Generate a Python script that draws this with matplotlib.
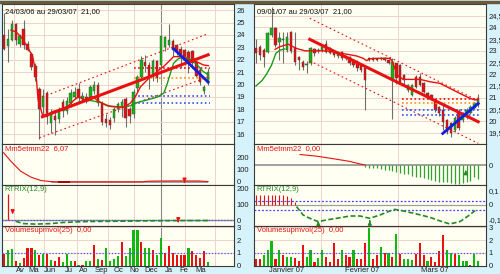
import matplotlib
matplotlib.use('Agg')
import matplotlib.pyplot as plt
from matplotlib.lines import Line2D

plt.rcParams['font.family'] = ['Liberation Sans', 'DejaVu Sans']

# ---------------- left chart : weekly 24/03/06 -> 29/03/07 ----------------
open_l = [24.0, 23.1, 23.6, 24.9, 23.3, 24.5, 23.3, 22.5, 21.5, 19.6, 18.2, 19.3, 16.9, 17.5, 17.2, 18.6,
          17.9, 18.5, 19.0, 19.6, 18.8, 19.0, 19.0, 19.5, 20.0, 18.5, 17.2, 17.1, 17.3, 18.0, 18.1, 18.8,
          18.0, 17.6, 19.7, 20.6, 21.8, 21.6, 20.6, 21.9, 21.6, 23.0, 23.2, 23.5, 23.2, 22.9, 22.8, 22.6,
          22.7, 21.8, 21.2, 19.5, 20.1]
close_l = [22.9, 23.7, 24.9, 23.6, 23.9, 23.2, 22.8, 21.4, 20.6, 18.0, 19.1, 17.4, 17.6, 17.1, 18.0, 17.9,
           18.7, 19.3, 19.4, 18.9, 19.1, 18.7, 19.8, 20.0, 18.5, 17.0, 16.9, 16.7, 18.0, 18.4, 18.6, 17.3,
           17.5, 19.4, 20.6, 22.0, 21.5, 20.5, 21.9, 20.5, 23.9, 23.8, 23.6, 22.8, 22.6, 22.2, 22.0, 21.9,
           21.7, 20.7, 20.2, 19.8, 21.0]
high_l = [25.8, 24.5, 25.2, 25.0, 24.1, 25.2, 23.5, 22.6, 21.7, 19.8, 19.6, 19.5, 18.0, 17.9, 18.2, 18.8,
          19.0, 19.6, 19.8, 20.1, 19.4, 19.3, 20.0, 20.3, 20.2, 18.7, 17.6, 17.4, 18.2, 18.6, 18.8, 19.0,
          18.2, 19.6, 20.8, 22.3, 22.4, 21.8, 22.1, 22.0, 24.0, 23.9, 24.9, 23.7, 23.3, 23.1, 22.9, 22.8,
          22.8, 21.9, 21.4, 20.0, 21.3]
low_l = [22.8, 21.8, 23.5, 23.2, 23.0, 22.9, 22.7, 21.2, 20.3, 15.6, 17.6, 16.8, 16.1, 15.9, 16.9, 17.4,
         17.6, 18.2, 18.8, 18.6, 18.6, 18.5, 18.8, 19.2, 18.3, 16.7, 16.6, 16.4, 17.0, 17.8, 17.4, 16.6,
         16.9, 17.3, 19.4, 20.4, 21.0, 19.6, 20.3, 20.2, 21.4, 22.7, 23.0, 22.3, 22.4, 21.3, 21.6, 20.9,
         21.5, 20.6, 20.0, 19.2, 20.0]
vol_l = [0.94, 1.21, 1.34, 0.40, 0.22, 0.62, 1.42, 1.42, 1.21, 0.86, 0.89, 0.89, 0.46, 0.35, 0.67, 0.27,
         0.94, 0.35, 0.40, 0.03, 0.08, 0.40, 0.40, 1.59, 0.54, 0.48, 1.42, 0.40, 0.54, 0.75, 1.88, 0.75,
         1.42, 2.77, 2.77, 1.88, 1.42, 1.42, 1.21, 0.81, 2.15, 0.99, 1.53, 0.99, 0.86, 0.81, 0.81, 1.40,
         1.13, 0.86, 0.62, 1.13, 0.32]
volcol_l = "rggrgrrrgrgrgrrgggrgrggrgrggggrggggrggrggrrrrrrgrrrrg"

ma_red_l_x = [1.8, 3.0, 4.3, 6.0, 7.3, 8.1, 8.7, 9.8, 11.1, 12.4, 14.0, 16.2, 17.9, 19.1, 20.4, 22.5, 24.2,
              26.3, 28.4, 30.5, 32.2, 33.5, 34.8, 36.9, 39.0, 41.1, 43.2, 45.4, 47.0, 49.1, 50.8, 52.1]
ma_red_l_y = [24.39, 24.26, 23.86, 23.05, 22.25, 21.04, 18.76, 17.55, 17.55, 17.82, 17.96, 18.22, 18.76,
              19.03, 18.76, 19.03, 18.63, 18.28, 18.22, 18.17, 18.5, 19.03, 19.83, 20.5, 21.04, 21.58,
              22.25, 22.25, 21.98, 21.84, 21.58, 21.52]
ma_grn_l_x = [15.3, 17.0, 19.5, 22.1, 24.6, 27.2, 29.7, 32.2, 34.0, 36.5, 39.0, 40.7, 41.5, 42.4, 43.2,
              44.5, 46.2, 47.9, 49.6, 50.8, 52.1]
ma_grn_l_y = [17.9, 18.28, 18.63, 18.71, 18.55, 18.22, 18.17, 18.28, 18.55, 18.76, 18.98, 19.3, 19.97,
              20.91, 21.71, 22.11, 22.19, 21.98, 21.44, 21.04, 20.77]
trend_l_x = [9.8, 52.0]
trend_l_y = [17.4, 22.4]
chan_up_l_y = [19.0, 24.1]
chan_lo_l_x = [9.0, 52.0]
chan_lo_l_y = [15.7, 20.6]
blue_l_x = [43.2, 52.0]
blue_l_y = [22.9, 20.2]
levels_l = [21.3, 20.56, 19.1, 18.5]

mm_l_x = [-0.1, 1.8, 4.3, 6.9, 9.4, 12.7, 20, 35, 37, 44, 50, 52]
mm_l_y = [235, 165, 85, 38, 11, 0, 0, 0, 6, 8, 7, 2]
trix_l_x = [3, 5, 8, 12, 15, 20, 25, 30, 35, 40, 45, 52]
trix_l_y = [-8, -22, -25, -22, -15, -10, -8, -7, -5, -4, -3, -3]

months_l = ['Av', 'Ma', 'Jun', 'Ju', 'Ao', 'Sep', 'Oc', 'No', 'Dec', 'Ja', 'Fe', 'Ma']
months_l_pos = [4.1, 7.6, 11.7, 16.5, 20.3, 24.9, 29.2, 33.2, 37.6, 41.9, 45.9, 50.0]
vgrid_l = [2.5, 10.2, 18.5, 26.4, 33.0, 46.2, 53.8]
year_l = 40.1

# ---------------- right chart : daily 09/01/07 -> 29/03/07 ----------------
open_r = [23.1, 23.18, 23.03, 22.96, 23.68, 23.96, 23.39, 23.45, 23.03, 23.8, 23.18, 22.75, 22.53, 22.4,
          22.46, 23.06, 22.98, 23.03, 23.3, 23.1, 23.0, 22.78, 22.96, 22.7, 22.75, 22.6, 22.53, 22.39,
          22.25, 22.7, 22.68, 22.66, 22.7, 22.68, 22.62, 21.75, 22.46, 22.4, 21.97, 21.32, 21.11, 21.9,
          21.9, 21.61, 21.18, 21.1, 20.9, 20.61, 20.47, 20.04, 19.9, 19.61, 20.4, 20.04, 20.19, 20.33,
          20.54, 20.68]
close_r = [22.92, 22.82, 22.75, 23.75, 23.96, 23.25, 23.53, 23.47, 23.6, 23.0, 22.54, 22.6, 22.32, 22.45,
           23.1, 22.9, 23.04, 23.18, 22.96, 22.9, 22.82, 22.92, 22.68, 22.75, 22.46, 22.4, 22.25, 22.18,
           21.75, 22.6, 22.62, 22.6, 22.64, 22.62, 22.5, 22.54, 21.82, 21.68, 21.75, 21.54, 21.54, 21.47,
           21.54, 21.25, 21.04, 20.98, 20.47, 20.33, 19.97, 19.54, 19.47, 20.11, 19.69, 20.33, 20.47,
           20.61, 20.75, 21.0]
high_r = [23.49, 23.25, 23.1, 23.8, 24.89, 24.0, 23.82, 23.82, 23.82, 23.85, 23.8, 22.8, 22.6, 22.55,
          23.15, 23.1, 23.1, 23.25, 23.46, 23.15, 23.05, 22.98, 23.0, 22.82, 22.8, 22.65, 22.6, 22.45,
          22.3, 22.75, 22.72, 22.7, 22.75, 22.72, 22.66, 22.68, 22.5, 22.45, 22.0, 21.6, 21.6, 21.95,
          22.04, 21.65, 21.22, 21.15, 20.95, 20.65, 20.7, 20.1, 19.95, 20.2, 20.5, 20.4, 20.55, 20.68,
          20.8, 21.15]
low_r = [22.46, 22.6, 22.32, 22.9, 23.6, 23.18, 22.6, 22.5, 22.96, 22.9, 22.4, 22.18, 22.2, 22.04, 22.4,
         22.8, 22.9, 22.95, 22.9, 22.85, 22.75, 22.7, 22.6, 22.6, 22.4, 22.3, 22.15, 22.1, 20.47, 22.55,
         22.58, 22.55, 22.6, 22.58, 22.45, 20.07, 21.6, 21.6, 21.6, 21.25, 21.05, 21.4, 21.5, 21.2, 20.95,
         20.9, 20.4, 20.2, 19.6, 19.45, 19.33, 19.55, 19.6, 19.95, 20.1, 20.3, 20.5, 20.6]
vol_r = [0.54, 0.54, 0.8, 1.2, 1.94, 0.54, 1.2, 0.8, 0.67, 0.67, 0.62, 0.35, 1.6, 0.72, 1.2, 0.27, 0.62,
         1.2, 0.72, 0.27, 1.75, 0.54, 1.2, 0.8, 0.72, 1.2, 0.54, 0.54, 1.75, 2.96, 0.54, 0.8, 1.48, 1.0,
         1.0, 0.67, 2.47, 0.94, 0.54, 0.54, 0.48, 0.94, 1.75, 0.8, 0.35, 0.67, 0.32, 1.13, 2.42, 1.2, 1.0,
         0.94, 0.8, 0.4, 0.4, 0.08, 0.94, 0.4]
volcol_r = "rrgggrgrggrrrggrggrrrrgrrgrrrgrrgrgrgrgggrrrgrrrrggrgggrgg"

ma_red_r_x = [4.9, 6.15, 8.3, 10.4, 12.6, 15.6, 18.1, 20.7, 23.2, 25.8, 27.5, 28.4, 29.2, 30.9, 34.4, 35.0,
              35.6, 36.5, 37.8, 39.5, 42.1, 44.6, 47.2, 49.7, 52.3, 54.9, 56.2, 57.0]
ma_red_r_y = [23.06, 23.18, 23.28, 23.1, 23.0, 23.0, 23.0, 22.92, 22.86, 22.78, 22.68, 22.58, 22.66, 22.68,
              22.68, 22.54, 22.25, 21.92, 21.78, 21.78, 21.78, 21.68, 21.61, 21.4, 21.18, 20.97, 20.9, 20.93]
ma_grn_r_x = [0.0, 1.5, 2.7, 4.0, 5.1, 6.15, 7.4]
ma_grn_r_y = [21.5, 21.72, 22.0, 22.39, 22.89, 23.03, 23.08]
trend_r_x = [13.8, 57.0]
trend_r_y = [23.49, 19.97]
chan_up_r_y = [24.39, 20.87]
chan_lo_r_y = [22.57, 19.05]
blue_r_x = [47.9, 57.0]
blue_r_y = [19.47, 20.75]
levels_r = [20.93, 20.78, 20.47, 20.28]

mm_r_x = [11.3, 15.6, 19.8, 24.1, 26.7, 28.0]
mm_r_y = [0.5, 0.42, 0.3, 0.17, 0.05, 0.0]
mm_r_bars = [-0.08, -0.12, -0.13, -0.15, -0.18, -0.22, -0.25, -0.28, -0.32, -0.37, -0.42, -0.45, -0.5,
             -0.55, -0.58, -0.62, -0.67, -0.72, -0.77, -0.8, -0.83, -0.83, -0.88, -0.92, -0.92, -0.88,
             -0.83, -0.75, -0.58, -0.67]
trix_r_x = [10.4, 12.1, 13.8, 16.0, 18.1, 20.7, 24.1, 26.7, 29.2, 31.8, 34.4, 35.6, 37.8, 41.2, 44.6,
            47.2, 49.7, 52.3, 54.4, 56.2]
trix_r_y = [-0.011, -0.069, -0.092, -0.115, -0.103, -0.092, -0.076, -0.076, -0.092, -0.069, -0.041,
            -0.030, -0.041, -0.062, -0.085, -0.110, -0.131, -0.115, -0.076, -0.039]
trix_r_bars = [0.069, 0.069, 0.069, 0.069, 0.069, 0.069, 0.069, 0.069, 0.062, 0.046, 0.023]

months_r = ['Janvier 07', 'Fevrier 07', 'Mars 07']
months_r_pos = [7.9, 27.2, 45.9]
vgrid_r = [16.6, 36.5]

# ---------------- style ----------------
BG = '#d6f3fb'
FACE = '#fffff2'
GRID = '#efd2cc'
GREEN = '#10b810'
RED = '#e81010'
DGREEN = '#208a20'
FS = 5.5

fig = plt.figure(figsize=(5.0, 2.74), dpi=100, facecolor=BG)
rows = [(4, 144), (144, 185), (185, 226), (226, 266)]


def make_panels(x0, xlim, vlines, yearline=None):
    axs = []
    for top, bot in rows:
        ax = fig.add_axes([x0 / 500, 1 - bot / 274, 232 / 500, (bot - top) / 274])
        ax.set_facecolor(FACE)
        ax.set_xlim(*xlim)
        ax.yaxis.tick_right()
        ax.tick_params(axis='y', length=0, pad=2, labelsize=FS, colors='#202020')
        ax.tick_params(axis='x', length=0, pad=0.5, labelsize=FS, colors='#202020')
        ax.set_xticks([])
        for s in ax.spines.values():
            s.set_color('#3a3a3a')
            s.set_linewidth(0.8)
        for v in vlines:
            ax.axvline(v, color=GRID, lw=0.7, zorder=0)
        if yearline is not None:
            ax.axvline(yearline, color='#8a8a8a', lw=0.8, zorder=0)
        axs.append(ax)
    return axs


def hgrid(ax, vals):
    for v in vals:
        ax.axhline(v, color=GRID, lw=0.7, zorder=0)


def candles(ax, o, c, h, l, width):
    xs = range(len(o))
    ax.vlines(xs, l, h, color='#6e6e6e', lw=0.8, zorder=2)
    for x, oo, cc in zip(xs, o, c):
        col = GREEN if cc >= oo else RED
        hgt = max(abs(cc - oo), 0.04)
        ax.bar(x, hgt, bottom=min(oo, cc), width=width, color=col,
               edgecolor='#404040', linewidth=0.3, zorder=3)


def volumes(ax, vol, cols):
    xs = range(len(vol))
    ax.bar(xs, vol, width=0.55, color=[GREEN if k == 'g' else RED for k in cols], zorder=2)
    ax.axhline(1, color='#5050ff', lw=0.9, ls=(0, (1, 1.5)), zorder=3)
    ax.set_ylim(-0.02, 3.1)
    ax.set_yticks([0, 1, 2, 3])
    ax.set_yticklabels(['0', '1', '2', '3'])
    hgrid(ax, [1, 2, 3])


def label(ax, txt, col):
    ax.text(0.012, 0.97, txt, transform=ax.transAxes, va='top', ha='left', fontsize=FS, color=col,
            zorder=6)


def arrow(ax, x, y0, y1, col):
    ax.annotate('', xy=(x, y1), xytext=(x, y0),
                arrowprops=dict(arrowstyle='-|>', color=col, lw=1.0, mutation_scale=5), zorder=6)


# ---- left chart ----
L = make_panels(2, (-0.5, 58.6), vgrid_l, year_l)
ax = L[0]
ax.set_ylim(15.2, 26.5)
ticks = list(range(16, 27))
ax.set_yticks(ticks)
ax.set_yticklabels([str(t) for t in ticks])
hgrid(ax, ticks)
ax.plot([trend_l_x[0], trend_l_x[1]], chan_up_l_y, color=RED, lw=0.8, ls=(0, (1.5, 2.5)), zorder=4)
ax.plot(chan_lo_l_x, chan_lo_l_y, color=RED, lw=0.8, ls=(0, (1.5, 2.5)), zorder=4)
candles(ax, open_l, close_l, high_l, low_l, 0.62)
for lv, col in zip(levels_l, [RED, '#ff9020', '#3050ff', '#3050ff']):
    ax.hlines(lv, 33, 52.5, color=col, lw=1.2, ls=(0, (1, 1.5)), zorder=4)
ax.plot(ma_grn_l_x, ma_grn_l_y, color='#1a9a1a', lw=1.0, zorder=4)
ax.plot(ma_red_l_x, ma_red_l_y, color=RED, lw=1.0, zorder=4)
ax.plot(trend_l_x, trend_l_y, color=RED, lw=2.2, zorder=5)
ax.plot(blue_l_x, blue_l_y, color='#1020e0', lw=2.0, zorder=5)
label(ax, '24/03/06 au 29/03/07  21,00', '#101010')

ax = L[1]
ax.set_ylim(-25, 305)
ax.set_yticks([0, 100, 200])
ax.set_yticklabels(['0', '100', '200'])
ax.hlines(0, 12, 52, color='#909090', lw=1.2, zorder=2)
ax.plot(mm_l_x, mm_l_y, color=RED, lw=0.8, zorder=3)
ax.plot([14, 16.5], [2, 2], color='#b00000', lw=1.4, zorder=3)
arrow(ax, 46, 20, -5, RED)
label(ax, 'Mm5etmm22  6,07', RED)

ax = L[2]
ax.set_ylim(-37, 219)
ax.set_yticks([0, 100, 200])
ax.set_yticklabels(['0', '100', '200'])
ax.axhline(0, color='#909090', lw=1.0, zorder=2)
ax.axhline(0, color='#5050ff', lw=0.9, ls=(0, (1, 1.5)), zorder=3)
ax.vlines(1.0, 0, 165, color=RED, lw=0.9, zorder=3)
ax.plot(trix_l_x, trix_l_y, color=DGREEN, lw=1.2, ls=(0, (3, 1.5)), zorder=4)
arrow(ax, 2.2, 70, 20, RED)
arrow(ax, 44.4, 10, -30, RED)
label(ax, 'RTRIX(12,9)', DGREEN)

ax = L[3]
volumes(ax, vol_l, volcol_l)
ax.set_xticks(months_l_pos)
ax.set_xticklabels(months_l)
label(ax, 'Volumesupmvol(25)  0,00', RED)

# ---- right chart ----
R = make_panels(254, (-0.5, 59.0), vgrid_r)
ax = R[0]
ax.set_ylim(19.02, 25.0)
rt = [19.5 + 0.5 * k for k in range(11)]
ax.set_yticks(rt)
ax.set_yticklabels([('%g' % t).replace('.', ',') for t in rt])
hgrid(ax, rt)
ax.plot(trend_r_x, chan_up_r_y, color=RED, lw=0.8, ls=(0, (1.5, 2.5)), zorder=4)
ax.plot(trend_r_x, chan_lo_r_y, color=RED, lw=0.8, ls=(0, (1.5, 2.5)), zorder=4)
candles(ax, open_r, close_r, high_r, low_r, 0.62)
for lv, col in zip(levels_r, [RED, '#ff9020', '#3050ff', '#3050ff']):
    ax.hlines(lv, 37.4, 57.3, color=col, lw=1.2, ls=(0, (1, 1.5)), zorder=4)
ax.plot(ma_grn_r_x, ma_grn_r_y, color='#1a9a1a', lw=1.0, zorder=4)
ax.plot(ma_red_r_x, ma_red_r_y, color=RED, lw=1.0, zorder=4)
ax.plot(trend_r_x, trend_r_y, color=RED, lw=2.2, zorder=5)
ax.plot(blue_r_x, blue_r_y, color='#1020e0', lw=2.0, zorder=5)
label(ax, '09/01/07 au 29/03/07  21,00', '#101010')

ax = R[1]
ax.set_ylim(-0.952, 1.0)
ax.set_yticks([0])
ax.set_yticklabels(['0'])
ax.axhline(0, color='#909090', lw=1.2, zorder=2)
ax.plot(mm_r_x, mm_r_y, color=RED, lw=0.8, zorder=3)
ax.vlines(range(28, 28 + len(mm_r_bars)), mm_r_bars, 0, color='#30a030', lw=0.9, zorder=3)
arrow(ax, 53.8, -0.45, -0.12, DGREEN)
label(ax, 'Mm5etmm22  0,00', RED)

ax = R[2]
ax.set_ylim(-0.145, 0.138)
ax.set_yticks([-0.1, 0, 0.1])
ax.set_yticklabels(['-0,1', '0', '0,1'])
ax.axhline(0, color='#a0a0a0', lw=0.9, zorder=2)
ax.axhline(0.028, color='#4040ff', lw=0.9, ls=(0, (1.5, 1.5)), zorder=3)
ax.axhline(-0.034, color='#4040ff', lw=0.9, ls=(0, (1.5, 1.5)), zorder=3)
ax.vlines(range(len(trix_r_bars)), 0, trix_r_bars, color=RED, lw=0.8, zorder=3)
ax.plot(trix_r_x, trix_r_y, color=DGREEN, lw=1.2, ls=(0, (3, 1.5)), zorder=4)
arrow(ax, 16.0, -0.145, -0.112, DGREEN)
arrow(ax, 29.2, -0.13, -0.09, DGREEN)
label(ax, 'RTRIX(12,9)', DGREEN)

ax = R[3]
volumes(ax, vol_r, volcol_r)
ax.set_xticks(months_r_pos)
ax.set_xticklabels(months_r)
label(ax, 'Volumesupmvol(25)  0,00', RED)

fig.add_artist(Line2D([0, 1], [1 - 2 / 274] * 2, color='#6b5a3a', lw=2.5))

fig.savefig('out.png', dpi=100, facecolor=BG)
